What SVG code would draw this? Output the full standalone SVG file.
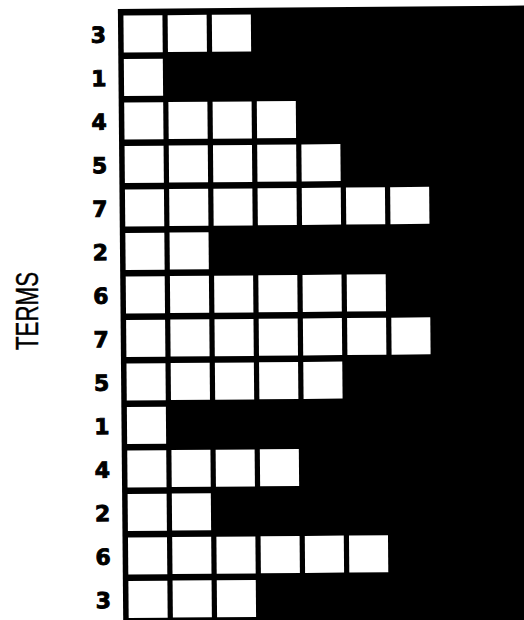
<svg xmlns="http://www.w3.org/2000/svg" width="524" height="620" viewBox="0 0 524 620">
<style>
.bg{fill:#000}
.c{fill:#fff}
.n{font-family:"DejaVu Sans","Liberation Sans",Arial,sans-serif;font-weight:bold;font-size:22px;fill:#000;stroke:#000;stroke-width:0.9;text-anchor:end}
.t{font-family:"Liberation Sans",Arial,sans-serif;font-size:31px;fill:#000;stroke:#000;stroke-width:0.4;text-anchor:middle}
</style>
<defs>
<rect id="cell" width="39" height="37" class="c"/>
</defs>
<rect width="524" height="620" fill="#fff"/>
<text class="t" transform="translate(37.5,311) rotate(-90)" textLength="78" lengthAdjust="spacingAndGlyphs">TERMS</text>
<g id="grid" transform="rotate(-0.5,126,310)">
<rect class="bg" x="120.5" y="9" width="460" height="640"/>
<g id="row1"><text class="n" x="108.5" y="42.5">3</text><use href="#cell" x="126" y="15.5"/><use href="#cell" x="170.2" y="15.5"/><use href="#cell" x="214.4" y="15.5"/></g>
<g id="row2"><text class="n" x="108.5" y="86">1</text><use href="#cell" x="126" y="59"/></g>
<g id="row3"><text class="n" x="108.5" y="129.5">4</text><use href="#cell" x="126" y="102.5"/><use href="#cell" x="170.2" y="102.5"/><use href="#cell" x="214.4" y="102.5"/><use href="#cell" x="258.6" y="102.5"/></g>
<g id="row4"><text class="n" x="108.5" y="173">5</text><use href="#cell" x="126" y="146"/><use href="#cell" x="170.2" y="146"/><use href="#cell" x="214.4" y="146"/><use href="#cell" x="258.6" y="146"/><use href="#cell" x="302.8" y="146"/></g>
<g id="row5"><text class="n" x="108.5" y="216.5">7</text><use href="#cell" x="126" y="189.5"/><use href="#cell" x="170.2" y="189.5"/><use href="#cell" x="214.4" y="189.5"/><use href="#cell" x="258.6" y="189.5"/><use href="#cell" x="302.8" y="189.5"/><use href="#cell" x="347" y="189.5"/><use href="#cell" x="391.2" y="189.5"/></g>
<g id="row6"><text class="n" x="108.5" y="260">2</text><use href="#cell" x="126" y="233"/><use href="#cell" x="170.2" y="233"/></g>
<g id="row7"><text class="n" x="108.5" y="303.5">6</text><use href="#cell" x="126" y="276.5"/><use href="#cell" x="170.2" y="276.5"/><use href="#cell" x="214.4" y="276.5"/><use href="#cell" x="258.6" y="276.5"/><use href="#cell" x="302.8" y="276.5"/><use href="#cell" x="347" y="276.5"/></g>
<g id="row8"><text class="n" x="108.5" y="347">7</text><use href="#cell" x="126" y="320"/><use href="#cell" x="170.2" y="320"/><use href="#cell" x="214.4" y="320"/><use href="#cell" x="258.6" y="320"/><use href="#cell" x="302.8" y="320"/><use href="#cell" x="347" y="320"/><use href="#cell" x="391.2" y="320"/></g>
<g id="row9"><text class="n" x="108.5" y="390.5">5</text><use href="#cell" x="126" y="363.5"/><use href="#cell" x="170.2" y="363.5"/><use href="#cell" x="214.4" y="363.5"/><use href="#cell" x="258.6" y="363.5"/><use href="#cell" x="302.8" y="363.5"/></g>
<g id="row10"><text class="n" x="108.5" y="434">1</text><use href="#cell" x="126" y="407"/></g>
<g id="row11"><text class="n" x="108.5" y="477.5">4</text><use href="#cell" x="126" y="450.5"/><use href="#cell" x="170.2" y="450.5"/><use href="#cell" x="214.4" y="450.5"/><use href="#cell" x="258.6" y="450.5"/></g>
<g id="row12"><text class="n" x="108.5" y="521">2</text><use href="#cell" x="126" y="494"/><use href="#cell" x="170.2" y="494"/></g>
<g id="row13"><text class="n" x="108.5" y="564.5">6</text><use href="#cell" x="126" y="537.5"/><use href="#cell" x="170.2" y="537.5"/><use href="#cell" x="214.4" y="537.5"/><use href="#cell" x="258.6" y="537.5"/><use href="#cell" x="302.8" y="537.5"/><use href="#cell" x="347" y="537.5"/></g>
<g id="row14"><text class="n" x="108.5" y="608">3</text><use href="#cell" x="126" y="581"/><use href="#cell" x="170.2" y="581"/><use href="#cell" x="214.4" y="581"/></g>
</g>
</svg>
